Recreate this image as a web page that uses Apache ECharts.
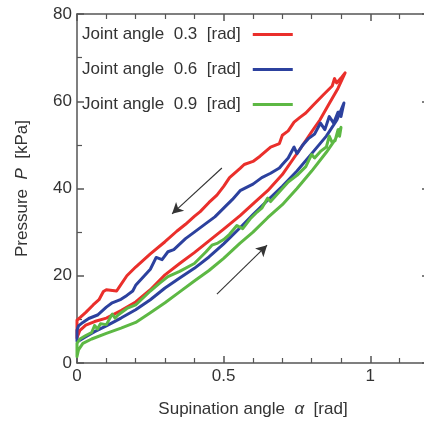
<!DOCTYPE html>
<html>
<head>
<meta charset="utf-8">
<script src="https://cdn.jsdelivr.net/npm/echarts@6/dist/echarts.min.js"></script>
<style>html,body{margin:0;padding:0;background:#fff;}#c{width:424px;height:425px;}</style>
</head>
<body>
<div id="c"></div>
<script>
const seriesNames = ['Joint angle  0.3  [rad]', 'Joint angle  0.6  [rad]', 'Joint angle  0.9  [rad]'];
const xTicks = [0, 0.5, 1];
const yTicks = [0, 20, 40, 60, 80];

// Joint angle 0.3: loading (lower branch) and unloading (upper branch)
const redLoading = [[0,5.8],[0.01,7.5],[0.03,8.7],[0.06,9.5],[0.1,10.3],[0.15,12],[0.2,14],[0.25,16.8],[0.3,20.2],[0.35,22.8],[0.4,25.3],[0.45,28],[0.5,30.7],[0.556,33.8],[0.6,36.5],[0.65,39.5],[0.7,43.2],[0.76,49],[0.8,53],[0.828,55.7],[0.86,59.5],[0.89,63],[0.914,66.5]];
const redUnloading = [[0.914,66.5],[0.9,65.3],[0.885,64.2],[0.878,65.2],[0.87,63.5],[0.84,61.5],[0.805,59.1],[0.78,57.3],[0.76,56.3],[0.74,55.2],[0.72,53.2],[0.7,52.2],[0.69,50.3],[0.66,49.5],[0.624,47.4],[0.6,46.2],[0.57,45.5],[0.556,44.6],[0.52,42.5],[0.5,40.5],[0.477,38.5],[0.45,36.8],[0.42,34.7],[0.4,33.6],[0.37,31.8],[0.34,30.2],[0.3,27.8],[0.25,25],[0.2,22],[0.17,20],[0.145,17.5],[0.135,16.5],[0.1,16.8],[0.09,16.4],[0.075,14.5],[0.055,13.3],[0.03,11.6],[0.012,10.5],[0,9.8],[0,5.8]];

// Joint angle 0.6
const blueLoading = [[0,5],[0.01,5.2],[0.03,6],[0.06,7.2],[0.1,8.5],[0.15,10.3],[0.2,12.2],[0.25,14.5],[0.3,17.2],[0.35,19.5],[0.4,21.7],[0.45,24.3],[0.5,27.3],[0.556,31],[0.6,34],[0.65,37.3],[0.7,40.5],[0.75,44],[0.8,48],[0.85,52],[0.886,55.7],[0.91,59.6]];
const blueUnloading = [[0.91,59.6],[0.9,56.5],[0.89,57.5],[0.875,55],[0.86,56.5],[0.845,53.5],[0.83,55],[0.81,52.5],[0.79,51.5],[0.77,50],[0.75,48],[0.74,49.5],[0.72,47],[0.7,45.5],[0.69,44.7],[0.66,43.5],[0.63,42.5],[0.6,41],[0.556,39.5],[0.53,37.5],[0.5,35.5],[0.47,33.5],[0.44,32],[0.4,30],[0.37,28.5],[0.33,26],[0.31,25.5],[0.29,23.7],[0.27,24.2],[0.25,21.5],[0.2,17.8],[0.19,16.5],[0.17,15.5],[0.15,14.6],[0.12,13.8],[0.1,12.8],[0.07,11],[0.04,10.2],[0.02,9.3],[0.005,8.5],[0,7.5],[0,5]];

// Joint angle 0.9
const greenLoading = [[0,1.5],[0.005,3],[0.02,4.5],[0.05,5.5],[0.1,6.8],[0.15,8],[0.2,9.3],[0.25,11.5],[0.3,13.8],[0.35,16.3],[0.4,18.8],[0.45,21.2],[0.5,24],[0.556,27.5],[0.6,30],[0.65,33.3],[0.7,36.3],[0.75,40],[0.8,44],[0.85,48.3],[0.88,51.2],[0.9,54]];
const greenUnloading = [[0.9,54],[0.895,52],[0.89,53.5],[0.88,51],[0.87,50.5],[0.86,52],[0.85,49.5],[0.83,48.5],[0.81,47],[0.8,47.8],[0.78,45],[0.75,43],[0.72,41.5],[0.7,40],[0.68,38.5],[0.66,37],[0.65,37.8],[0.63,35.5],[0.614,34.6],[0.59,33],[0.565,30.8],[0.545,31.5],[0.52,29.5],[0.5,28.3],[0.48,27.5],[0.46,27],[0.44,25.5],[0.4,22.8],[0.35,21],[0.31,19.8],[0.28,18.2],[0.25,16.5],[0.2,13.3],[0.17,12.5],[0.14,11],[0.13,10.3],[0.12,11.2],[0.1,8.8],[0.08,9],[0.07,7.8],[0.06,8.6],[0.05,7],[0.03,6.3],[0.01,5.5],[0,4.5],[0,1.5]];

// Direction arrows (data coordinates)
const arrowUnload = [[0.494,44.7],[0.324,34.2]];
const arrowLoad = [[0.477,15.8],[0.648,27.0]];

const colors = ['#ea2f2b', '#2c419e', '#5db844'];
const loops = [redLoading.concat(redUnloading), blueLoading.concat(blueUnloading), greenLoading.concat(greenUnloading)];

const axisColor = '#555';
const font = 'Liberation Sans, Arial, sans-serif';
const fs = 17;

function xAxisCfg(pos, showLabel) {
  return {
    type: 'value', position: pos, min: 0, max: 1.2, interval: 0.5,
    axisLine: {show: true, onZero: false, lineStyle: {color: axisColor, width: 1.5}},
    axisTick: {show: true, inside: true, length: 7, lineStyle: {color: axisColor, width: 1.5}},
    minorTick: {show: true, splitNumber: 5, length: 5, lineStyle: {color: axisColor, width: 1.2}},
    splitLine: {show: false},
    axisLabel: {show: showLabel, color: '#333', fontSize: fs, fontFamily: font, margin: 5,
      formatter: v => xTicks.indexOf(v) >= 0 ? String(v) : ''},
    name: showLabel ? 'Supination angle  {i|α}  [rad]' : '',
    nameLocation: 'middle', nameGap: 38,
    nameTextStyle: {color: '#333', fontSize: fs, fontFamily: font,
      rich: {i: {fontStyle: 'italic', fontSize: fs, fontFamily: font, color: '#333'}}}
  };
}
function yAxisCfg(pos, showLabel) {
  return {
    type: 'value', position: pos, min: 0, max: 80, interval: 20,
    axisLine: {show: true, onZero: false, lineStyle: {color: axisColor, width: 1.5}},
    axisTick: {show: true, inside: true, length: 7, lineStyle: {color: axisColor, width: 1.5}},
    minorTick: {show: true, splitNumber: 2, length: 5, lineStyle: {color: axisColor, width: 1.2}},
    splitLine: {show: false},
    axisLabel: {show: showLabel, color: '#333', fontSize: fs, fontFamily: font, margin: 5,
      formatter: v => yTicks.indexOf(v) >= 0 ? String(v) : ''},
    name: showLabel ? 'Pressure  {i|P}  [kPa]' : '',
    nameLocation: 'middle', nameGap: 46,
    nameTextStyle: {color: '#333', fontSize: fs, fontFamily: font,
      rich: {i: {fontStyle: 'italic', fontSize: fs, fontFamily: font, color: '#333'}}}
  };
}

const series = seriesNames.map((n, i) => ({
  name: n, type: 'line', data: loops[i], showSymbol: false, symbol: 'none',
  xAxisIndex: 0, yAxisIndex: 0, silent: true, animation: false,
  lineStyle: {color: colors[i], width: 3, join: 'round', cap: 'round'},
  itemStyle: {color: colors[i]}
}));
series.push({
  name: 'arrows', type: 'line', data: [], xAxisIndex: 0, yAxisIndex: 0, animation: false,
  markLine: {
    silent: true, animation: false, symbol: ['none', 'arrow'], symbolSize: [9, 11],
    label: {show: false},
    lineStyle: {color: '#333', width: 1.1, type: 'solid'},
    data: [
      [{coord: arrowUnload[0]}, {coord: arrowUnload[1]}],
      [{coord: arrowLoad[0]}, {coord: arrowLoad[1]}]
    ]
  }
});

const chart = echarts.init(document.getElementById('c'), null, {renderer: 'canvas'});
chart.setOption({
  animation: false,
  backgroundColor: '#fff',
  grid: {left: 77, top: 14, width: 352, height: 349, containLabel: false, outerBoundsMode: 'none'},
  legend: {
    data: seriesNames, orient: 'vertical', left: 77, top: 21, align: 'right',
    icon: 'rect', itemWidth: 40, itemHeight: 3, itemGap: 18,
    textStyle: {color: '#333', fontSize: fs, fontFamily: font, padding: [0, 7, 0, 0]}
  },
  xAxis: [xAxisCfg('bottom', true), xAxisCfg('top', false)],
  yAxis: [yAxisCfg('left', true), yAxisCfg('right', false)],
  series: series
});
</script>
</body>
</html>
